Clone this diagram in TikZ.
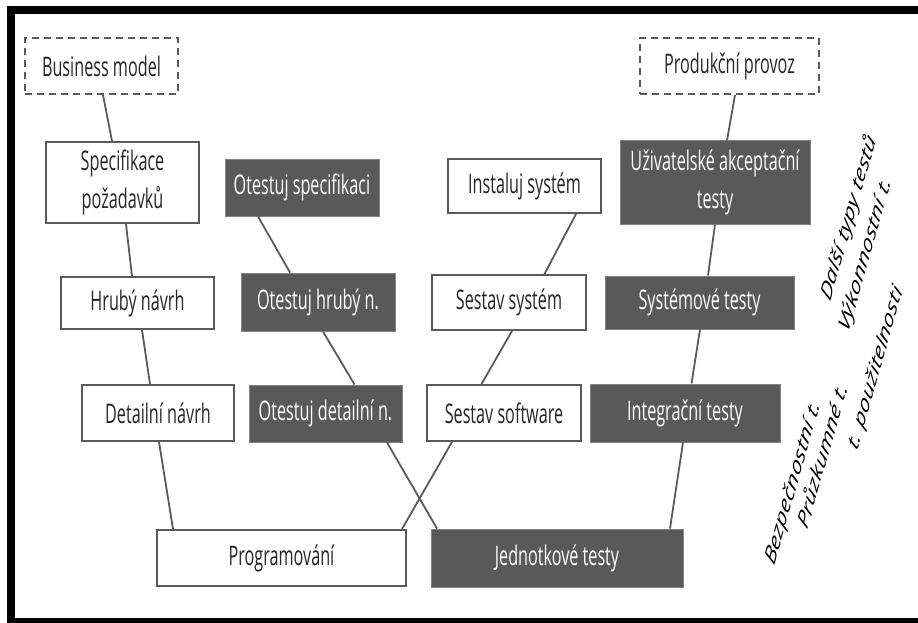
\documentclass[tikz,border=0pt]{standalone}
\usepackage{fontspec}
\setmainfont{Open Sans}[FakeStretch=0.6]
\newfontfamily\rotfont{Open Sans}
\usetikzlibrary{calc}
\definecolor{boxgray}{HTML}{595959}
\definecolor{linegray}{HTML}{5A5A5A}
\definecolor{txtgray}{HTML}{262626}
\begin{document}
\begin{tikzpicture}[x=1pt,y=-1pt,
  font=\fontsize{27}{38}\selectfont,
  lightbox/.style={draw=linegray, line width=2pt, fill=white, text=txtgray, inner sep=0pt, align=center},
  darkbox/.style={draw=boxgray!75, line width=1pt, fill=boxgray, text=white, inner sep=0pt, align=center},
  dashbox/.style={draw=linegray, line width=2pt, dash pattern=on 7pt off 5pt, text=txtgray, inner sep=0pt},
  link/.style={draw=linegray, line width=1.8pt},
  rottext/.style={rotate=64.45, anchor=base west, inner sep=0pt, text=black, font=\rotfont\itshape\fontsize{27}{30}\selectfont}]
\useasboundingbox (0,0) rectangle (918,623);
% frame
\fill[black] (7,6) rectangle (918,14);
\fill[black] (7,6) rectangle (15,623);
\fill[black] (7,618) rectangle (918,623);
% left branch
\node[dashbox, minimum width=153pt, minimum height=56pt] (bm) at (101.5,66) {Business model};
\node[lightbox, minimum width=153pt, minimum height=81pt] (spec) at (122.5,182.5) {Specifikace\\požadavků};
\node[lightbox, minimum width=153pt, minimum height=52pt] (hrub) at (137.5,303) {Hrubý návrh};
\node[lightbox, minimum width=152pt, minimum height=56pt] (det) at (158,413) {Detailní návrh};
\node[lightbox, minimum width=249pt, minimum height=56pt] (prog) at (281.5,558) {Programování};
% test-design branch
\node[darkbox, minimum width=154pt, minimum height=57pt] (ospec) at (302,187.5) {Otestuj specifikaci};
\node[darkbox, minimum width=154pt, minimum height=58pt] (ohrub) at (318,302) {Otestuj hrubý n.};
\node[darkbox, minimum width=153pt, minimum height=57pt] (odet) at (325.5,413.5) {Otestuj detailní n.};
\node[darkbox, minimum width=252pt, minimum height=58pt] (jed) at (557,558) {Jednotkové testy};
% build branch
\node[lightbox, minimum width=153pt, minimum height=54pt] (inst) at (524.5,186) {Instaluj systém};
\node[lightbox, minimum width=154pt, minimum height=55pt] (ssys) at (509,302.5) {Sestav systém};
\node[lightbox, minimum width=154pt, minimum height=56pt] (ssw) at (504,413) {Sestav software};
% right branch
\node[dashbox, minimum width=179pt, minimum height=56pt] (prod) at (729.5,66) {Produkční provoz};
\node[darkbox, minimum width=190pt, minimum height=83pt] (uat) at (715,182.5) {Uživatelské akceptační\\testy};
\node[darkbox, minimum width=189pt, minimum height=53pt] (systt) at (699.5,302.5) {Systémové testy};
\node[darkbox, minimum width=190pt, minimum height=58pt] (integ) at (685,413) {Integrační testy};
% connectors
\draw[link] ([xshift=1.5pt]bm.south) -- ([xshift=-10.5pt]spec.north);
\draw[link] ([xshift=3.5pt]spec.south) -- ([xshift=-5.5pt]hrub.north);
\draw[link] ([xshift=4.5pt]hrub.south) -- ([xshift=-8pt]det.north);
\draw[link] ([xshift=1pt]det.south) -- ([xshift=-108.5pt]prog.north);
\draw[link] ([xshift=-44pt]ospec.south) -- ([xshift=-28pt]ohrub.north);
\draw[link] ([xshift=5pt]ohrub.south) -- ([xshift=29pt]odet.north);
\draw[link] ([xshift=61.5pt]odet.south) -- ([xshift=-120pt]jed.north);
\draw[link] ([xshift=120.5pt]prog.north) -- ([xshift=-52pt]ssw.south);
\draw[link] ([xshift=-22.5pt]ssw.north) -- ([xshift=3pt]ssys.south);
\draw[link] ([xshift=35.5pt]ssys.north) -- ([xshift=51.5pt]inst.south);
\draw[link] ([xshift=113pt]jed.north) -- ([xshift=-2pt]integ.south);
\draw[link] ([xshift=6.5pt]integ.north) -- ([xshift=0.5pt]systt.south);
\draw[link] ([xshift=8.5pt]systt.north) -- ([xshift=0pt]uat.south);
\draw[link] ([xshift=12pt]uat.north) -- ([xshift=5.5pt]prod.south);
% rotated side text
\begin{scope}[shift={(830,303)}, xscale=0.6, transform shape]
  \node[rottext] (r1) at (0,0) {Další typy testů};
\end{scope}
\begin{scope}[shift={(774,567)}, xscale=0.6, transform shape]
  \node[rottext] (r2) at (0,0) {Bezpečnostní t.};
\end{scope}
\begin{scope}[shift={(848,334)}, xscale=0.6, transform shape]
  \node[rottext] (r3) at (0,0) {Výkonnostní t.};
\end{scope}
\begin{scope}[shift={(807,531)}, xscale=0.6, transform shape]
  \node[rottext] (r4) at (0,0) {Průzkumné t.};
\end{scope}
\begin{scope}[shift={(857,452)}, xscale=0.6, transform shape]
  \node[rottext] (r5) at (0,0) {t. použitelnosti};
\end{scope}
\end{tikzpicture}
\end{document}
